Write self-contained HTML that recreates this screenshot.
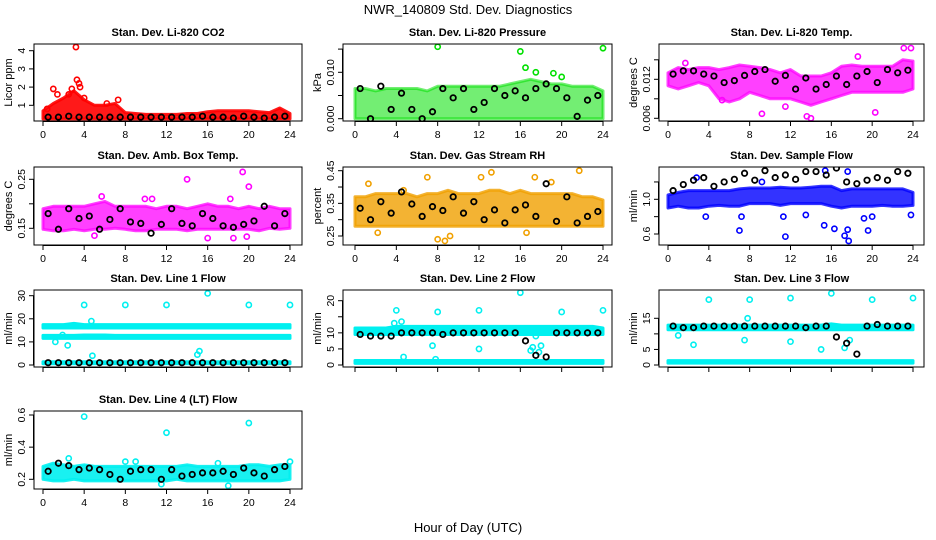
<!DOCTYPE html>
<html><head><meta charset="utf-8"><style>
html,body{margin:0;padding:0;background:#fff;}
svg{display:block;font-family:"Liberation Sans",sans-serif;}
.t{font-weight:bold;font-size:11px;}
.tk{font-size:10.5px;}
</style></head><body>
<svg id="chart" width="936" height="540" viewBox="0 0 936 540" xmlns="http://www.w3.org/2000/svg">
<text x="468" y="14" text-anchor="middle" font-size="13">NWR_140809  Std. Dev. Diagnostics</text>
<text x="468" y="532" text-anchor="middle" font-size="13">Hour of Day (UTC)</text>
</svg>
<script>
const hours=[0,1,2,3,4,5,6,7,8,9,10,11,12,13,14,15,16,17,18,19,20,21,22,23,24];
const blackHours=[0.5,1.5,2.5,3.5,4.5,5.5,6.5,7.5,8.5,9.5,10.5,11.5,12.5,13.5,14.5,15.5,16.5,17.5,18.5,19.5,20.5,21.5,22.5,23.5];
const xTicks=[0,4,8,12,16,20,24];

// CO2
const co2Lo=[0.25,0.25,0.25,0.25,0.25,0.25,0.25,0.25,0.25,0.25,0.25,0.25,0.25,0.25,0.25,0.25,0.25,0.25,0.25,0.25,0.25,0.25,0.25,0.25,0.25];
const co2Hi=[0.7,1.1,1.4,1.8,1.3,1.0,1.0,1.1,0.6,0.55,0.5,0.5,0.5,0.5,0.55,0.55,0.65,0.7,0.7,0.7,0.7,0.65,0.6,0.85,0.55];
const co2ExX=[1,1.4,3.2,3.3,3.5,3.6,2.8,2.5,4.0,7.3,6.2,0.4];
const co2ExY=[1.9,1.6,4.2,2.4,2.2,2.0,1.9,1.6,1.4,1.3,1.1,0.8];
const co2Black=[0.35,0.35,0.4,0.35,0.35,0.35,0.35,0.35,0.35,0.35,0.35,0.35,0.35,0.35,0.35,0.4,0.35,0.35,0.3,0.4,0.35,0.3,0.35,0.4];
// Pressure
const presLo=[0,0,0,0,0,0,0,0,0,0,0,0,0,0,0,0,0,0,0,0,0,0,0,0,0];
const presHi=[0.0065,0.0065,0.006,0.0065,0.0065,0.0065,0.0065,0.006,0.007,0.007,0.007,0.007,0.007,0.007,0.007,0.0075,0.008,0.0085,0.008,0.0075,0.0075,0.007,0.007,0.007,0.006];
const presExX=[8,16,24,16.5,17.5,19.2,20];
const presExY=[0.0155,0.0145,0.0152,0.011,0.01,0.0098,0.009];
const presBlack=[0.0065,0,0.007,0.002,0.0055,0.002,0,0.0015,0.0065,0.0045,0.0065,0.002,0.0035,0.0065,0.005,0.006,0.0045,0.0065,0.0075,0.0065,0.0045,0.0005,0.004,0.005];
// Li temp
const ltLo=[0.011,0.0105,0.011,0.0115,0.011,0.009,0.0085,0.009,0.01,0.0095,0.009,0.009,0.009,0.0085,0.008,0.0085,0.009,0.0095,0.01,0.01,0.01,0.01,0.01,0.01,0.0105];
const ltHi=[0.013,0.0138,0.0135,0.0138,0.0138,0.0135,0.0138,0.0142,0.014,0.0138,0.0135,0.013,0.0135,0.0125,0.0125,0.0125,0.013,0.014,0.0142,0.014,0.014,0.014,0.014,0.015,0.0148];
const ltExX=[13.6,14,9.2,20.3,1.7,18.6,23.1,23.8,5.3,11.5];
const ltExY=[0.0063,0.006,0.0067,0.0069,0.0145,0.0155,0.0168,0.0168,0.0088,0.0078];
const ltBlack=[0.0128,0.0133,0.0133,0.0128,0.0125,0.0115,0.0118,0.0126,0.0132,0.0135,0.0117,0.0126,0.0105,0.0122,0.0105,0.0112,0.0125,0.0112,0.0125,0.0132,0.0115,0.0135,0.013,0.0134];
// Amb box temp
const abLo=[0.148,0.145,0.145,0.148,0.145,0.148,0.148,0.15,0.148,0.145,0.145,0.148,0.148,0.148,0.145,0.148,0.148,0.148,0.148,0.148,0.148,0.145,0.15,0.148,0.15];
const abHi=[0.19,0.195,0.195,0.195,0.195,0.2,0.205,0.195,0.195,0.195,0.195,0.19,0.195,0.195,0.19,0.195,0.2,0.195,0.195,0.19,0.195,0.19,0.195,0.19,0.19];
const abExX=[14,19.4,20,5.7,9.9,10.6,18.2,16,18.5,5,19.8];
const abExY=[0.25,0.265,0.235,0.215,0.21,0.21,0.21,0.13,0.13,0.135,0.133];
const abBlack=[0.18,0.148,0.19,0.17,0.175,0.148,0.168,0.19,0.163,0.16,0.14,0.158,0.19,0.16,0.155,0.18,0.17,0.155,0.152,0.158,0.165,0.195,0.155,0.18];
// RH
const rhLo=[0.28,0.28,0.28,0.28,0.28,0.28,0.28,0.28,0.28,0.28,0.28,0.28,0.28,0.28,0.28,0.28,0.28,0.28,0.28,0.28,0.28,0.28,0.28,0.28,0.28];
const rhHi=[0.37,0.37,0.38,0.38,0.38,0.38,0.37,0.38,0.38,0.39,0.38,0.38,0.38,0.39,0.39,0.38,0.39,0.38,0.38,0.38,0.38,0.38,0.37,0.37,0.36];
const rhExX=[13.2,21.7,7,8,8.7,2.2,9.2,16.6,1.3,4.7,19,12.2,17.4];
const rhExY=[0.445,0.45,0.43,0.24,0.235,0.26,0.25,0.26,0.41,0.39,0.415,0.43,0.43];
const rhBlack=[0.335,0.3,0.355,0.32,0.385,0.348,0.31,0.34,0.328,0.37,0.32,0.355,0.3,0.33,0.29,0.33,0.345,0.31,0.41,0.295,0.37,0.29,0.31,0.325];
// Sample flow
const sfLo=[0.9,0.92,0.9,0.9,0.92,0.93,0.92,0.92,0.95,0.95,0.95,0.93,0.95,0.95,0.95,0.95,0.92,0.9,0.92,0.92,0.92,0.93,0.92,0.92,0.93];
const sfHi=[1.05,1.08,1.1,1.1,1.1,1.1,1.1,1.12,1.13,1.13,1.13,1.14,1.13,1.13,1.14,1.15,1.15,1.1,1.12,1.12,1.12,1.12,1.12,1.12,1.08];
const sfExX=[7,11.5,17.3,17.7,17.6,15.3,16.3,19.6,13.5,11.3,7.2,3.7,23.8,20,19.2,15.4,17.6,2.8,9.2];
const sfExY=[0.64,0.57,0.58,0.52,0.65,0.7,0.66,0.64,0.82,0.8,0.8,0.8,0.82,0.8,0.78,1.33,1.32,1.25,1.2];
const sfBlack=[1.1,1.17,1.22,1.25,1.15,1.2,1.23,1.3,1.22,1.33,1.25,1.28,1.23,1.32,1.32,1.28,1.36,1.2,1.18,1.22,1.25,1.22,1.32,1.3];
// Line 1
const l1aLo=[16,16,16,16,16,16,16,16,16,16,16,16,16,16,16,16,16,16,16,16,16,16,16,16,16];
const l1aHi=[17.5,17.5,17.5,18,17.5,17.5,17.5,17.5,17.5,17.5,17.5,17.5,17.5,17.5,17.5,17.5,17.5,17.5,17.5,17.5,17.5,17.5,17.5,17.5,17.5];
const l1bLo=[11.5,11.5,11.5,11.5,11.5,11.5,11.5,11.5,11.5,11.5,11.5,11.5,11.5,11.5,11.5,11.5,11.5,11.5,11.5,11.5,11.5,11.5,11.5,11.5,11.5];
const l1bHi=[12.8,12.8,12.8,12.8,13,13,13,12.8,12.8,12.8,12.8,12.8,12.8,12.8,12.8,12.8,12.8,12.8,12.8,12.8,12.8,12.8,12.8,12.8,12.8];
const l1cLo=[0.5,0.5,0.5,0.5,0.5,0.5,0.5,0.5,0.5,0.5,0.5,0.5,0.5,0.5,0.5,0.5,0.5,0.5,0.5,0.5,0.5,0.5,0.5,0.5,0.5];
const l1cHi=[1.4,1.4,1.4,1.4,1.4,1.4,1.4,1.4,1.4,1.4,1.4,1.4,1.4,1.4,1.4,1.4,1.4,1.4,1.4,1.4,1.4,1.4,1.4,1.4,1.4];
const l1ExX=[4,8,12,16,20,24,4.7,4.8,15,15.2,2.4,1.9,1.2];
const l1ExY=[26,26,26,31,26,26,19,4,4.5,6,8.5,13,10];
const l1Black=[1,1,1,1,1,1,1,1,1,1,1,1,1,1,1,1,1,1,1,1,1,1,1,1];
// Line 2
const l2aLo=[9.5,9.5,9.5,9.5,9.5,9.5,9.5,9.5,9.5,9.5,9.5,9.5,9.5,9.5,9.5,9.5,9.5,9.5,9.5,9.5,9.5,9.5,9.5,9.5,9.5];
const l2aHi=[11.5,11.5,11.5,11.5,12,12,12,12,12,12,12,12,12,12,12,12,12,12,12,12,12,12,12,12,11.5];
const l2bLo=[0.5,0.5,0.5,0.5,0.5,0.5,0.5,0.5,0.5,0.5,0.5,0.5,0.5,0.5,0.5,0.5,0.5,0.5,0.5,0.5,0.5,0.5,0.5,0.5,0.5];
const l2bHi=[1.4,1.4,1.4,1.4,1.4,1.4,1.4,1.4,1.4,1.4,1.4,1.4,1.4,1.4,1.4,1.4,1.4,1.4,1.4,1.4,1.4,1.4,1.4,1.4,1.4];
const l2ExX=[4,8,12,16,20,24,7.5,12,4.7,17,17.2,17.5,18,17.8,7.8,3.8,4.5];
const l2ExY=[17,16.5,17,22.5,16.5,17,6,5,2.5,4.5,5.5,9,6,4,1.8,13,13.5];
const l2Black=[9.5,9,9,9,10,10,10,10,9.5,10,10,10,10,10,10,10,7.5,3,2.5,10,10,10,10,10];
// Line 3
const l3aLo=[11.3,11.3,11.3,11.3,11.3,11.3,11.3,11.3,11.3,11.3,11.3,11.3,11.3,11.3,11.3,11.3,11.3,11.3,11.3,11.3,11.3,11.3,11.3,11.3,11.3];
const l3aHi=[12.8,12.8,12.8,12.8,12.8,12.8,12.8,12.8,12.8,12.8,12.8,12.8,12.8,12.8,12.8,12.8,13.2,12.8,12.8,12.8,12.8,12.8,12.8,12.8,12.8];
const l3bLo=[0.6,0.6,0.6,0.6,0.6,0.6,0.6,0.6,0.6,0.6,0.6,0.6,0.6,0.6,0.6,0.6,0.6,0.6,0.6,0.6,0.6,0.6,0.6,0.6,0.6];
const l3bHi=[1.4,1.4,1.4,1.4,1.4,1.4,1.4,1.4,1.4,1.4,1.4,1.4,1.4,1.4,1.4,1.4,1.4,1.4,1.4,1.4,1.4,1.4,1.4,1.4,1.4];
const l3ExX=[4,8,12,16,20,24,2.5,7.5,12,15,17.3,17.8,7.8,1];
const l3ExY=[21,21,21.5,23,21,21.5,6.5,8,7.5,5,5.5,8,15,9.5];
const l3Black=[12.5,12,12,12.5,12.5,12.5,12.5,12.5,12.5,12.5,12.5,12.5,12.5,12,12.5,12.5,9,7,3.5,12.5,13,12.5,12.5,12.5];
// Line 4
const l4Lo=[0.2,0.19,0.19,0.2,0.19,0.19,0.19,0.19,0.19,0.19,0.19,0.19,0.19,0.2,0.19,0.19,0.19,0.19,0.19,0.19,0.19,0.19,0.19,0.19,0.2];
const l4Hi=[0.28,0.3,0.29,0.28,0.29,0.28,0.28,0.28,0.28,0.28,0.28,0.28,0.28,0.28,0.29,0.28,0.28,0.28,0.28,0.28,0.29,0.29,0.28,0.29,0.29];
const l4ExX=[4,12,20,2.5,8,9,17,24,18,11.5];
const l4ExY=[0.59,0.49,0.55,0.33,0.31,0.31,0.3,0.31,0.16,0.17];
const l4Black=[0.25,0.3,0.285,0.26,0.27,0.26,0.23,0.2,0.25,0.26,0.26,0.2,0.26,0.22,0.23,0.24,0.24,0.25,0.23,0.27,0.24,0.22,0.26,0.28];

const NS="http://www.w3.org/2000/svg";
const svg=document.getElementById('chart');
const colL=[34,343,659], colR=[302,612,924], colX0=[43,355,668], colX24=[290,603,913];
const rowT=[44,167,290,411], rowB=[121,245,367,489];

function mk(tag,attrs,parent){const e=document.createElementNS(NS,tag);for(const k in attrs)e.setAttribute(k,attrs[k]);(parent||svg).appendChild(e);return e;}

const panels=[
 {name:'co2',title:'Stan. Dev. Li-820 CO2',ylab:'Licor ppm',r:0,c:0,vA:4,pA:50.7,vB:1,pB:105.3,ticks:[1,2,3,4],labels:['1','2','3','4'],color:'#ff0000',op:0.9,bands:[[co2Lo,co2Hi]],ex:[co2ExX,co2ExY],blk:co2Black,xl:true},
 {name:'pressure',title:'Stan. Dev. Li-820 Pressure',ylab:'kPa',r:0,c:1,vA:0.010,pA:72.3,vB:0,pB:118.7,ticks:[0,0.005,0.010,0.015],labels:['0.000','','0.010',''],color:'#00e000',op:0.55,bands:[[presLo,presHi]],ex:[presExX,presExY],blk:presBlack,xl:true},
 {name:'li-temp',title:'Stan. Dev. Li-820 Temp.',ylab:'degrees C',r:0,c:2,vA:0.012,pA:79.3,vB:0.006,pB:118.3,ticks:[0.006,0.009,0.012,0.015],labels:['0.006','','0.012',''],color:'#ff00ff',op:0.75,bands:[[ltLo,ltHi]],ex:[ltExX,ltExY],blk:ltBlack,xl:true},
 {name:'amb-box-temp',title:'Stan. Dev. Amb. Box Temp.',ylab:'degrees C',r:1,c:0,vA:0.25,pA:179.3,vB:0.15,pB:228.3,ticks:[0.15,0.20,0.25],labels:['0.15','','0.25'],color:'#ff00ff',op:0.75,bands:[[abLo,abHi]],ex:[abExX,abExY],blk:abBlack,xl:true},
 {name:'gas-rh',title:'Stan. Dev. Gas Stream RH',ylab:'percent',r:1,c:1,vA:0.45,pA:170.7,vB:0.25,pB:236,ticks:[0.25,0.30,0.35,0.40,0.45],labels:['0.25','','0.35','','0.45'],color:'#f0a000',op:0.8,bands:[[rhLo,rhHi]],ex:[rhExX,rhExY],blk:rhBlack,xl:true},
 {name:'sample-flow',title:'Stan. Dev. Sample Flow',ylab:'ml/min',r:1,c:2,vA:1.0,pA:199.3,vB:0.6,pB:234,ticks:[0.6,0.8,1.0,1.2],labels:['0.6','','1.0',''],color:'#0000ff',op:0.8,bands:[[sfLo,sfHi]],ex:[sfExX,sfExY],blk:sfBlack,xl:true},
 {name:'line1-flow',title:'Stan. Dev. Line 1 Flow',ylab:'ml/min',r:2,c:0,vA:30,pA:295.7,vB:0,pB:365,ticks:[0,10,20,30],labels:['0','10','20','30'],color:'#00f0f0',op:1,bands:[[l1aLo,l1aHi],[l1bLo,l1bHi],[l1cLo,l1cHi]],ex:[l1ExX,l1ExY],blk:l1Black,xl:false},
 {name:'line2-flow',title:'Stan. Dev. Line 2 Flow',ylab:'ml/min',r:2,c:1,vA:20,pA:300.7,vB:0,pB:365,ticks:[0,5,10,15,20],labels:['0','5','10','','20'],color:'#00f0f0',op:1,bands:[[l2aLo,l2aHi],[l2bLo,l2bHi]],ex:[l2ExX,l2ExY],blk:l2Black,xl:false},
 {name:'line3-flow',title:'Stan. Dev. Line 3 Flow',ylab:'ml/min',r:2,c:2,vA:15,pA:318.3,vB:0,pB:365,ticks:[0,5,10,15],labels:['0','5','','15'],color:'#00f0f0',op:1,bands:[[l3aLo,l3aHi],[l3bLo,l3bHi]],ex:[l3ExX,l3ExY],blk:l3Black,xl:false},
 {name:'line4-flow',title:'Stan. Dev. Line 4 (LT) Flow',ylab:'ml/min',r:3,c:0,vA:0.6,pA:415,vB:0.2,pB:479.3,ticks:[0.2,0.4,0.6],labels:['0.2','0.4','0.6'],color:'#00f0f0',op:0.9,bands:[[l4Lo,l4Hi]],ex:[l4ExX,l4ExY],blk:l4Black,xl:true}
];

panels.forEach((p,i)=>{
  const L=colL[p.c],R=colR[p.c],T=rowT[p.r],B=rowB[p.r];
  const x0=colX0[p.c],x24=colX24[p.c];
  const X=h=>x0+(x24-x0)*h/24;
  const Y=v=>p.pB+(v-p.vB)*(p.pA-p.pB)/(p.vA-p.vB);
  const g=mk('g',{});
  
  
  const cid='clip'+i;
  const cp=mk('clipPath',{id:cid},g);mk('rect',{x:L,y:T,width:R-L,height:B-T},cp);
  const title=mk('text',{x:(L+R)/2,y:T-8,'text-anchor':'middle',class:'t'},g);
  title.textContent=p.title;
  
  
  const data=mk('g',{'clip-path':'url(#'+cid+')'},g);
  
  
  p.bands.forEach(b=>{
    let d='';
    hours.forEach((h,k)=>{d+=(k?'L':'M')+X(h).toFixed(1)+','+Y(b[1][k]).toFixed(1);});
    for(let k=hours.length-1;k>=0;k--){d+='L'+X(hours[k]).toFixed(1)+','+Y(b[0][k]).toFixed(1);}
    const band=mk('path',{d:d+'Z',fill:p.color,'fill-opacity':p.op,stroke:p.color,'stroke-width':3,'stroke-linejoin':'round','stroke-opacity':p.op},data);
    
    
  });
  p.ex[0].forEach((h,k)=>{
    const c=mk('circle',{cx:X(h),cy:Y(p.ex[1][k]),r:2.6,fill:'none',stroke:p.color,'stroke-width':1.6},data);
    
    
  });
  blackHours.forEach((h,k)=>{
    const c=mk('circle',{cx:X(h),cy:Y(p.blk[k]),r:2.7,fill:'none',stroke:'#000','stroke-width':1.8},data);
    
    
  });
  const box=mk('rect',{x:L,y:T,width:R-L,height:B-T,fill:'none',stroke:'#000','stroke-width':1},g);
  
  
  const xa=mk('g',{stroke:'#000','stroke-width':1},g);
  
  
  mk('line',{x1:X(0),x2:X(24),y1:B+0.5,y2:B+0.5},xa);
  xTicks.forEach(t=>{
    mk('line',{x1:X(t),x2:X(t),y1:B,y2:B+5},xa);
    if(p.xl){const tx=mk('text',{x:X(t),y:B+17,'text-anchor':'middle',class:'tk',stroke:'none',fill:'#000'},g);tx.textContent=t;
      
      }
  });
  const ya=mk('g',{stroke:'#000','stroke-width':1},g);
  
  
  const ys=p.ticks.map(Y);
  mk('line',{x1:L-0.5,x2:L-0.5,y1:Math.min(...ys),y2:Math.max(...ys)},ya);
  p.ticks.forEach((t,k)=>{
    const y=Y(t);
    mk('line',{x1:L-5,x2:L,y1:y,y2:y},ya);
    if(p.labels[k]){const tx=mk('text',{x:L-9,y:y,'text-anchor':'middle',class:'tk',transform:'rotate(-90 '+(L-9)+' '+y+')'},g);tx.textContent=p.labels[k];
      
      }
  });
  const yl=mk('text',{x:L-22,y:(T+B)/2,'text-anchor':'middle','font-size':'11',transform:'rotate(-90 '+(L-22)+' '+(T+B)/2+')'},g);
  yl.textContent=p.ylab;
  
  
});
</script>
</body></html>
